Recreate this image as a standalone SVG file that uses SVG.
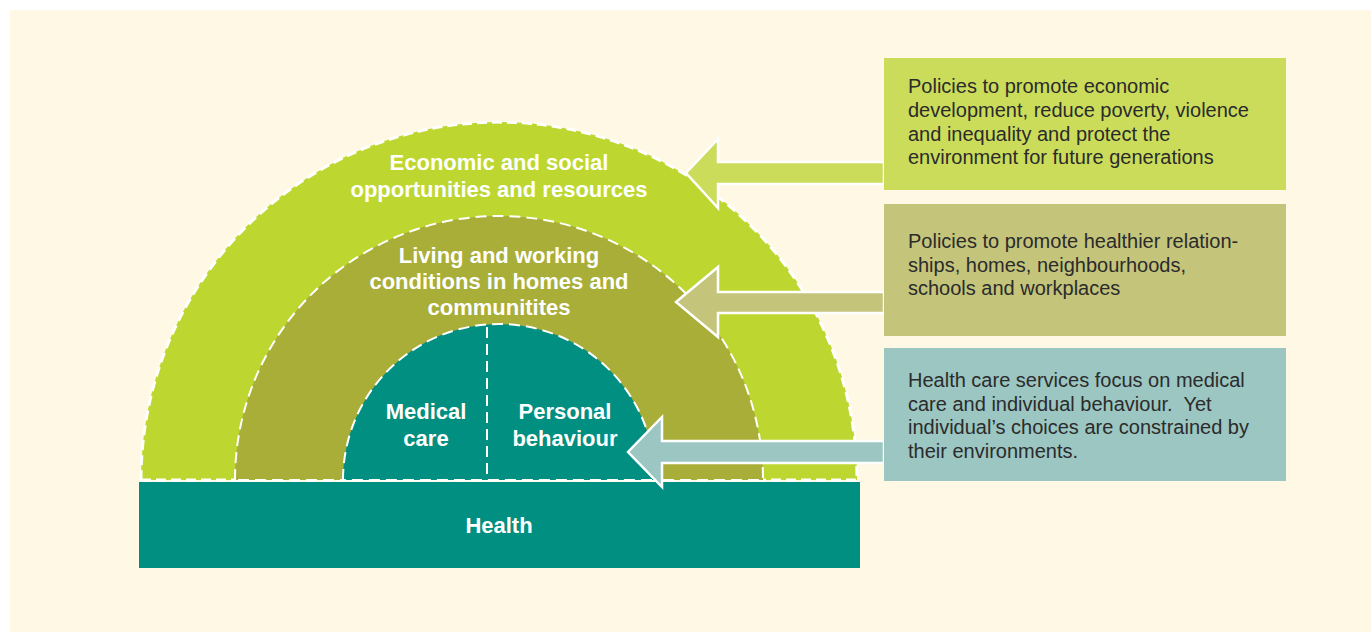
<svg xmlns="http://www.w3.org/2000/svg" width="1371" height="632" viewBox="0 0 1371 632">
  <style>
    .band-label { font-family: "Liberation Sans", Arial, sans-serif; font-weight: bold; font-size: 22px; fill: #ffffff; text-anchor: middle; }
    .box-text { font-family: "Liberation Sans", Arial, sans-serif; font-size: 20px; fill: #2b2b2b; }
    .outer { fill: #bdd730; stroke: #ffffff; stroke-width: 3; stroke-dasharray: 10 5; }
    .middle { fill: #a8ae37; stroke: #ffffff; stroke-width: 2; stroke-dasharray: 11 6; }
    .inner { fill: #008f80; stroke: #ffffff; stroke-width: 2; stroke-dasharray: 11 6; }
    .divider { stroke: #ffffff; stroke-width: 2; stroke-dasharray: 11 6; fill: none; }
    .arrow { stroke: #ffffff; stroke-width: 2.5; stroke-linejoin: miter; }
  </style>

  <!-- page background -->
  <rect x="0" y="0" width="1371" height="632" fill="#ffffff"/>
  <rect x="10" y="10" width="1361" height="622" fill="#fef8e4"/>

  <!-- outer ring: economic and social -->
  <g id="band-outer">
    <path class="outer" d="M141,480 A358,358 0 0 1 857,480 Z"/>
    <text class="band-label" x="499" y="170">Economic and social</text>
    <text class="band-label" x="499" y="197">opportunities and resources</text>
  </g>

  <!-- middle ring: living and working conditions -->
  <g id="band-middle">
    <path class="middle" d="M235,480 A264,264 0 0 1 763,480 Z"/>
    <text class="band-label" x="499" y="263">Living and working</text>
    <text class="band-label" x="499" y="289">conditions in homes and</text>
    <text class="band-label" x="499" y="315">communitites</text>
  </g>

  <!-- core: medical care and personal behaviour -->
  <g id="band-inner">
    <path class="inner" d="M343,480 A156,156 0 0 1 655,480 Z"/>
    <line class="divider" x1="487" y1="327" x2="487" y2="480"/>
    <text class="band-label" x="426" y="419">Medical</text>
    <text class="band-label" x="426" y="446">care</text>
    <text class="band-label" x="565" y="419">Personal</text>
    <text class="band-label" x="565" y="446">behaviour</text>
  </g>

  <!-- base bar -->
  <g id="health">
    <rect x="139" y="482" width="721" height="86" fill="#008f80"/>
    <text class="band-label" x="499" y="533">Health</text>
  </g>

  <!-- policy arrows -->
  <g id="connectors">
    <polygon class="arrow" fill="#cbdc5b" points="884,162 718,162 718,139 686,173 718,208 718,184 884,184"/>
    <polygon class="arrow" fill="#c4c47b" points="884,292 718,292 718,267 676,302 718,337 718,313 884,313"/>
    <polygon class="arrow" fill="#9bc6c2" points="884,441 662,441 662,417 628,452 662,487 662,463 884,463"/>
  </g>

  <g id="box-economic">
    <rect x="884" y="58" width="402" height="132" fill="#cbdc5b"/>
    <text class="box-text" x="908" y="93">Policies to promote economic</text>
    <text class="box-text" x="908" y="117">development, reduce poverty, violence</text>
    <text class="box-text" x="908" y="140.5">and inequality and protect the</text>
    <text class="box-text" x="908" y="164">environment for future generations</text>
  </g>

  <g id="box-living">
    <rect x="884" y="204" width="402" height="132" fill="#c4c47b"/>
    <text class="box-text" x="908" y="248">Policies to promote healthier relation-</text>
    <text class="box-text" x="908" y="271.5">ships, homes, neighbourhoods,</text>
    <text class="box-text" x="908" y="295">schools and workplaces</text>
  </g>

  <g id="box-health-care">
    <rect x="884" y="348" width="402" height="133" fill="#9bc6c2"/>
    <text class="box-text" x="908" y="387">Health care services focus on medical</text>
    <text class="box-text" x="908" y="410.5">care and individual behaviour.&#160; Yet</text>
    <text class="box-text" x="908" y="434">individual’s choices are constrained by</text>
    <text class="box-text" x="908" y="457.5">their environments.</text>
  </g>
</svg>
